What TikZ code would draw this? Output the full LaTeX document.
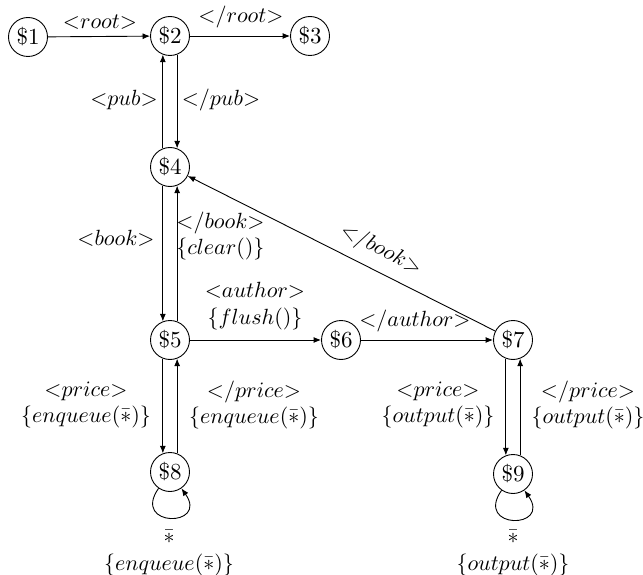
\documentclass[tikz,border=0pt]{standalone}
\usepackage{graphicx}
\usetikzlibrary{arrows.meta}
\begin{document}
\begin{tikzpicture}[x=1pt,y=-1pt,
  state/.style={circle, draw, line width=0.9pt, minimum size=39pt, inner sep=0pt},
  lbl/.style={inner sep=0pt, align=center, font=\normalsize, scale=2.2},
  edge/.style={line width=0.9pt, -{Latex[length=7.5pt,width=6pt]}}]
\useasboundingbox (0,0) rectangle (643,575);

% states
\newcommand\stname[1]{\scalebox{2.3}{\$#1}}
\node[state] (s1) at (28,37)   {\stname{1}};
\node[state] (s2) at (170,36)  {\stname{2}};
\node[state] (s3) at (310,36)  {\stname{3}};
\node[state] (s4) at (170,167) {\stname{4}};
\node[state] (s5) at (170,340) {\stname{5}};
\node[state] (s6) at (341,340) {\stname{6}};
\node[state] (s7) at (513,340) {\stname{7}};
\node[state] (s8) at (170,472) {\stname{8}};
\node[state] (s9) at (513,474) {\stname{9}};

% transitions (y axis points down, so polar offsets are mirrored)
\draw[edge] (s1) -- (s2);
\draw[edge] (s2) -- (s3);
\draw[edge] (s4.111) -- (s2.249);
\draw[edge] (s2.291) -- (s4.69);
\draw[edge] (s4.249) -- (s5.111);
\draw[edge] (s5.69) -- (s4.291);
\draw[edge] (s5) -- (s6);
\draw[edge] (s6) -- (s7);
\draw[edge] (s7) -- (s4);
\draw[edge] (s5.249) -- (s8.111);
\draw[edge] (s8.69) -- (s5.291);
\draw[edge] (s7.249) -- (s9.111);
\draw[edge] (s9.69) -- (s7.291);
\draw[edge] (s8.235) .. controls +(125:48) and +(55:48) .. (s8.305);
\draw[edge] (s9.235) .. controls +(125:48) and +(55:48) .. (s9.305);

% transition labels
\node[lbl] (l12) at (100,22)  {${<}root{>}$};
\node[lbl] (l23) at (241,17)  {${<}/root{>}$};
\node[lbl] (l42) at (124,100) {${<}pub{>}$};
\node[lbl] (l24) at (221,100) {${<}/pub{>}$};
\node[lbl] (l45) at (116,238) {${<}book{>}$};
\node[lbl, align=left, anchor=west] (l54) at (176,236)
  {${<}/book{>}$\\$\{clear()\}$};
\node[lbl] (l56) at (255,306) {${<}author{>}$\\$\{flush()\}$};
\node[lbl] (l67) at (415,321) {${<}/author{>}$};
\node[lbl, rotate=-27] (l74) at (381,250) {${<}/book{>}$};
\node[lbl] (l58) at (86,405)  {${<}price{>}$\\$\{enqueue(\bar{*})\}$};
\node[lbl] (l85) at (254,405) {${<}/price{>}$\\$\{enqueue(\bar{*})\}$};
\node[lbl] (l88) at (169,553) {$\bar{*}$\\$\{enqueue(\bar{*})\}$};
\node[lbl] (l79) at (438,405) {${<}price{>}$\\$\{output(\bar{*})\}$};
\node[lbl] (l97) at (588,405) {${<}/price{>}$\\$\{output(\bar{*})\}$};
\node[lbl] (l99) at (513,553) {$\bar{*}$\\$\{output(\bar{*})\}$};
\end{tikzpicture}
\end{document}
